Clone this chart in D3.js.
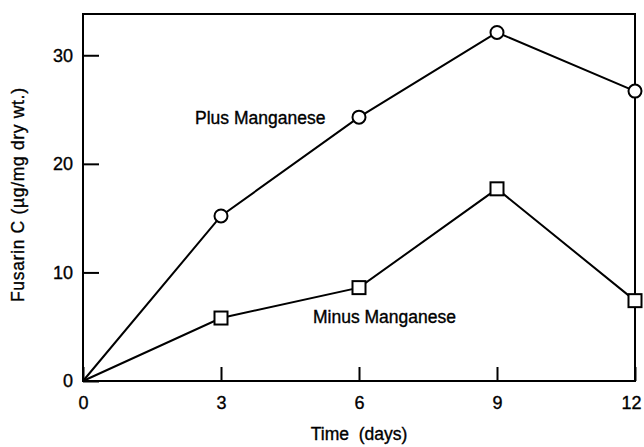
<!DOCTYPE html>
<html>
<head>
<meta charset="utf-8">
<script src="https://cdn.jsdelivr.net/npm/d3@7"></script>
<style>
  body { margin: 0; background: #fff; }
  text { font-family: "Liberation Sans", Arial, sans-serif; fill: #000; stroke: #000; stroke-width: 0.35px; }
</style>
</head>
<body>
<div id="container"></div>
<script>
/* CONSTANTS AND GLOBALS */
const width = 644,
  height = 447,
  margin = { top: 14, bottom: 66, left: 83, right: 9 };

/* DATA */
const days = [0, 3, 6, 9, 12];
const plusManganese = [0, 15.2, 24.3, 32.1, 26.7];
const minusManganese = [0, 5.8, 8.6, 17.7, 7.4];
const xTicks = [0, 3, 6, 9, 12];
const yTicks = [0, 10, 20, 30];

const svg = d3.select("#container")
  .append("svg")
  .attr("width", width)
  .attr("height", height);

// + SCALES
const xScale = d3.scaleLinear()
  .domain([0, 12])
  .range([margin.left, width - margin.right]);

const yScale = d3.scaleLinear()
  .domain([0, 33.8])
  .range([height - margin.bottom, margin.top]);

// + FRAME
svg.append("rect")
  .attr("x", xScale(0))
  .attr("y", yScale(33.8))
  .attr("width", xScale(12) - xScale(0))
  .attr("height", yScale(0) - yScale(33.8))
  .attr("fill", "none")
  .attr("stroke", "#000")
  .attr("stroke-width", 2);

// + AXES (ticks point inward)
const xAxis = d3.axisBottom(xScale)
  .tickValues(xTicks)
  .tickSize(-14)
  .tickPadding(15)
  .tickFormat(d3.format("d"));

const yAxis = d3.axisLeft(yScale)
  .tickValues(yTicks)
  .tickSize(-16)
  .tickPadding(10)
  .tickFormat(d3.format("d"));

svg.append("g")
  .attr("class", "x-axis")
  .attr("transform", `translate(0, ${yScale(0)})`)
  .call(xAxis)
  .call(g => g.select(".domain").remove())
  // keep the last label inside the page
  .call(g => g.selectAll(".tick text").filter(d => d === 12).attr("dx", -4));

svg.append("g")
  .attr("class", "y-axis")
  .attr("transform", `translate(${xScale(0)}, 0)`)
  .call(yAxis)
  .call(g => g.select(".domain").remove());

svg.selectAll(".tick line").attr("stroke", "#000").attr("stroke-width", 2);
svg.selectAll(".tick text")
  .attr("font-family", "Liberation Sans, Arial, sans-serif")
  .attr("font-size", 18)
  .attr("fill", "#000");

// + LINES
const lineGenerator = (values) => d3.line()
  .x((d, i) => xScale(days[i]))
  .y(d => yScale(d))(values);

[plusManganese, minusManganese].forEach(series => {
  svg.append("path")
    .attr("class", "line")
    .attr("fill", "none")
    .attr("stroke", "#000")
    .attr("stroke-width", 2)
    .attr("d", lineGenerator(series));
});

// + MARKERS (none at origin)
const markerIdx = [1, 2, 3, 4];

svg.selectAll(".dot")
  .data(markerIdx)
  .join("circle")
  .attr("class", "dot")
  .attr("cx", i => xScale(days[i]))
  .attr("cy", i => yScale(plusManganese[i]))
  .attr("r", 6.5)
  .attr("fill", "#fff")
  .attr("stroke", "#000")
  .attr("stroke-width", 2);

const sq = 13;
svg.selectAll(".square")
  .data(markerIdx)
  .join("rect")
  .attr("class", "square")
  .attr("x", i => xScale(days[i]) - sq / 2)
  .attr("y", i => yScale(minusManganese[i]) - sq / 2)
  .attr("width", sq)
  .attr("height", sq)
  .attr("fill", "#fff")
  .attr("stroke", "#000")
  .attr("stroke-width", 2);

// + LABELS
svg.append("text")
  .attr("x", 195)
  .attr("y", 124)
  .attr("font-size", 17.5)
  .text("Plus Manganese");

svg.append("text")
  .attr("x", 313)
  .attr("y", 323)
  .attr("font-size", 17.5)
  .text("Minus Manganese");

svg.append("text")
  .attr("x", (xScale(0) + xScale(12)) / 2)
  .attr("y", 440)
  .attr("text-anchor", "middle")
  .attr("font-size", 17.5)
  .attr("xml:space", "preserve")
  .text("Time  (days)");

svg.append("text")
  .attr("transform", `translate(24, 195) rotate(-90)`)
  .attr("text-anchor", "middle")
  .attr("font-size", 17.5)
  .attr("textLength", 214)
  .attr("lengthAdjust", "spacing")
  .text("Fusarin C (µg/mg dry wt.)");
</script>
</body>
</html>
